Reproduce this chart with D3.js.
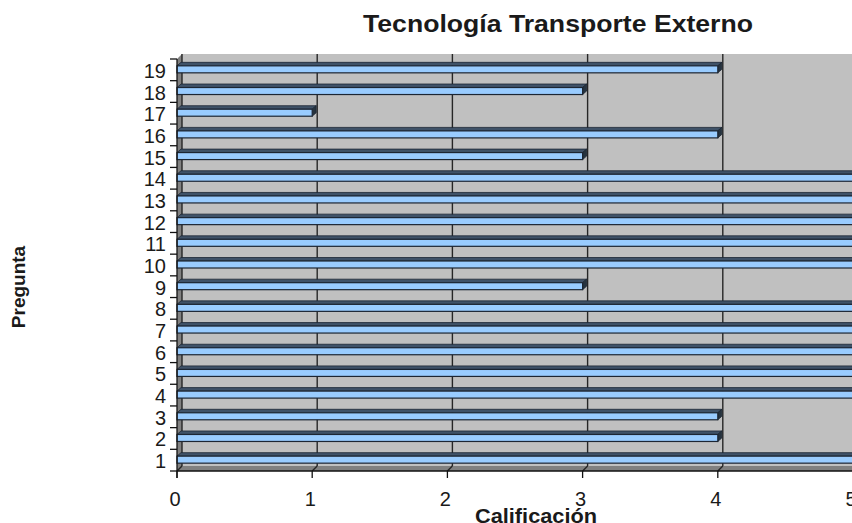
<!DOCTYPE html>
<html>
<head>
<meta charset="utf-8">
<script src="https://cdn.jsdelivr.net/npm/d3@7"></script>
<style>
  html, body { margin: 0; padding: 0; background: #fff; }
  svg { display: block; }
  text { font-family: "Liberation Sans", Arial, sans-serif; fill: #1a1a1a; }
</style>
</head>
<body>
<svg id="chart" width="852" height="523"></svg>
<script>
// Questions (Pregunta) and their scores (Calificación)
const categories = ["1","2","3","4","5","6","7","8","9","10","11","12","13","14","15","16","17","18","19"];
const scores     = [5, 4, 4, 5, 5, 5, 5, 5, 3, 5, 5, 5, 5, 5, 3, 4, 1, 3, 4];
const xTicks     = [0, 1, 2, 3, 4, 5];

const title  = "Tecnología Transporte Externo";
const xTitle = "Calificación";
const yTitle = "Pregunta";

const svg = d3.select("#chart");

// front plane of the 3-D plot box
const plotLeft = 177, plotRight = 853, plotTop = 59, plotBottom = 471;
// depth offset of the back wall
const dx = 5, dy = 5;
// depth offset of the bars
const bdx = 4, bdy = 3.5;

const x = d3.scaleLinear().domain([0, 5]).range([plotLeft, plotRight]);
const y = d3.scaleBand().domain(categories.slice().reverse()).range([plotTop, plotBottom]).paddingInner(0).paddingOuter(0);

const wallGray = "#c0c0c0", sideGray = "#808080", gridCol = "#262626";

// back wall
svg.append("rect")
  .attr("x", plotLeft + dx).attr("y", plotTop - dy)
  .attr("width", plotRight - plotLeft + 20).attr("height", plotBottom - plotTop)
  .attr("fill", wallGray);

// left wall
svg.append("path")
  .attr("d", `M${plotLeft},${plotTop} L${plotLeft + dx},${plotTop - dy} L${plotLeft + dx},${plotBottom - dy} L${plotLeft},${plotBottom} Z`)
  .attr("fill", sideGray);

// floor
svg.append("path")
  .attr("d", `M${plotLeft},${plotBottom} L${plotLeft + dx},${plotBottom - dy} L${plotRight + 20},${plotBottom - dy} L${plotRight + 20},${plotBottom} Z`)
  .attr("fill", sideGray);

// vertical gridlines on the back wall plus their floor edges
const grid = svg.append("g").attr("stroke", gridCol).attr("stroke-width", 1.4).attr("fill", "none");
xTicks.forEach(v => {
  grid.append("line")
    .attr("x1", x(v) + dx).attr("x2", x(v) + dx)
    .attr("y1", plotTop - dy).attr("y2", plotBottom - dy);
  grid.append("line")
    .attr("x1", x(v) + dx).attr("x2", x(v))
    .attr("y1", plotBottom - dy).attr("y2", plotBottom);
});

// bars (front face, top face, end face)
const data = categories.map((c, i) => ({ cat: c, value: scores[i] }));
const bars = svg.append("g");
data.forEach(d => {
  const c = y(d.cat) + y.bandwidth() / 2;
  const y0 = c - 4, y1 = c + 3;
  const x0 = x(0), x1 = x(d.value);
  const g = bars.append("g");
  // top face
  g.append("path")
    .attr("d", `M${x0},${y0} L${x0 + bdx},${y0 - bdy} L${x1 + bdx},${y0 - bdy} L${x1},${y0} Z`)
    .attr("fill", "#3f5268").attr("stroke", "#1c2633").attr("stroke-width", 0.8);
  // end face
  g.append("path")
    .attr("d", `M${x1},${y0} L${x1 + bdx},${y0 - bdy} L${x1 + bdx},${y1 - bdy} L${x1},${y1} Z`)
    .attr("fill", "#26333f").attr("stroke", "#1c2633").attr("stroke-width", 0.8);
  // front face
  g.append("rect")
    .attr("x", x0).attr("y", y0)
    .attr("width", x1 - x0).attr("height", y1 - y0)
    .attr("fill", "#99ccff").attr("stroke", "#1c2633").attr("stroke-width", 1.2);
});

// y axis
const yAxis = svg.append("g").attr("stroke", "#111").attr("stroke-width", 1.3);
yAxis.append("line").attr("x1", plotLeft).attr("x2", plotLeft).attr("y1", plotTop).attr("y2", plotBottom + 7);
const bounds = categories.map(c => y(c)).concat([plotBottom]);
bounds.forEach(b => {
  yAxis.append("line").attr("x1", plotLeft - 7).attr("x2", plotLeft).attr("y1", b).attr("y2", b);
});
svg.append("g").selectAll("text").data(categories).join("text")
  .attr("x", plotLeft - 11)
  .attr("y", d => y(d) + y.bandwidth() / 2 + 1)
  .attr("text-anchor", "end")
  .attr("dominant-baseline", "central")
  .attr("font-size", 20)
  .text(d => d);

// x axis
const xAxis = svg.append("g").attr("stroke", "#111").attr("stroke-width", 1.3);
xAxis.append("line").attr("x1", plotLeft).attr("x2", plotRight + 20).attr("y1", plotBottom).attr("y2", plotBottom);
xTicks.forEach(v => {
  xAxis.append("line").attr("x1", x(v)).attr("x2", x(v)).attr("y1", plotBottom).attr("y2", plotBottom + 7);
});
svg.append("g").selectAll("text").data(xTicks).join("text")
  .attr("x", d => x(d) - 2)
  .attr("y", 506)
  .attr("text-anchor", "middle")
  .attr("font-size", 20)
  .text(d => d);

// titles
svg.append("text")
  .attr("x", 558).attr("y", 32)
  .attr("text-anchor", "middle")
  .attr("font-size", 23).attr("font-weight", "bold")
  .attr("textLength", 390).attr("lengthAdjust", "spacingAndGlyphs")
  .text(title);

svg.append("text")
  .attr("x", 536).attr("y", 523)
  .attr("text-anchor", "middle")
  .attr("font-size", 20).attr("font-weight", "bold")
  .attr("textLength", 122).attr("lengthAdjust", "spacingAndGlyphs")
  .text(xTitle);

svg.append("text")
  .attr("transform", "translate(25,287) rotate(-90)")
  .attr("text-anchor", "middle")
  .attr("font-size", 19).attr("font-weight", "bold")
  .text(yTitle);
</script>
</body>
</html>
